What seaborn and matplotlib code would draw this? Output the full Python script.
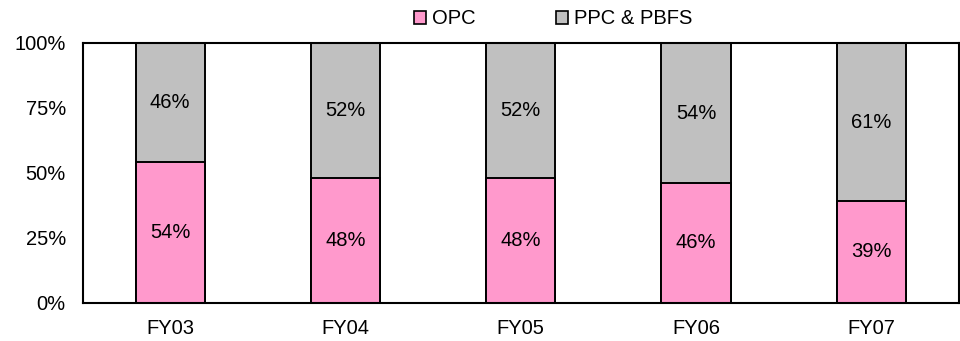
import matplotlib
matplotlib.use("Agg")
import matplotlib.pyplot as plt
import seaborn as sns
import pandas as pd
from matplotlib.patches import Patch

years = ["FY03", "FY04", "FY05", "FY06", "FY07"]
opc = [54, 48, 48, 46, 39]
ppc_pbfs = [46, 52, 52, 54, 61]
y_ticks = [0, 25, 50, 75, 100]

sns.set_style("white")
plt.rcParams["font.family"] = ["Liberation Sans", "DejaVu Sans"]
FS = 14.5
plt.rcParams.update({
    "font.size": FS,
    "text.color": "black",
    "xtick.color": "black",
    "ytick.color": "black",
    "axes.labelcolor": "black",
})

df = pd.DataFrame({"year": years, "OPC": opc, "PPC & PBFS": ppc_pbfs})
df["total"] = df["OPC"] + df["PPC & PBFS"]

PINK = "#FF99CC"
GREY = "#C0C0C0"

fig = plt.figure(figsize=(9.6, 3.41), dpi=100)
ax = fig.add_axes([82.5 / 960, 1 - 302.5 / 341, 876.5 / 960, 259.5 / 341])

# grey segment spans the full stack, pink drawn over the bottom part
sns.barplot(data=df, x="year", y="total", color=GREY, width=0.395,
            edgecolor="black", linewidth=1.4, saturation=1, ax=ax)
sns.barplot(data=df, x="year", y="OPC", color=PINK, width=0.395,
            edgecolor="black", linewidth=1.4, saturation=1, ax=ax)

bars = ax.patches
n = len(years)
pink_bars = bars[n:]
for pb, v_top, v_bot in zip(pink_bars, ppc_pbfs, opc):
    x = pb.get_x() + pb.get_width() / 2
    ax.text(x, v_bot / 2, f"{v_bot}%", ha="center", va="center", fontsize=FS, color="black")
    ax.text(x, v_bot + v_top / 2, f"{v_top}%", ha="center", va="center", fontsize=FS, color="black")

ax.set_xlim(-0.5, n - 0.5)
ax.set_ylim(0, 100)
ax.set_yticks(y_ticks)
ax.set_yticklabels([f"{t}%" for t in y_ticks])
ax.set_xlabel("")
ax.set_ylabel("")

# category labels at bar centres, tick marks on the boundaries
ax.set_xticks(range(n))
ax.set_xticklabels(years)
ax.tick_params(axis="x", which="major", length=0, pad=12, labelsize=FS, labelcolor="black")
ax.set_xticks([i - 0.5 for i in range(n + 1)], minor=True)
ax.tick_params(axis="x", which="minor", length=5, width=1.4, direction="out", color="black")
ax.tick_params(axis="y", length=0, pad=12, labelsize=FS, labelcolor="black")

for side in ["left", "right", "top", "bottom"]:
    ax.spines[side].set_visible(True)
    ax.spines[side].set_color("black")
    ax.spines[side].set_linewidth(1.5)

handles = [Patch(facecolor=PINK, edgecolor="black", linewidth=1.2, label="OPC"),
           Patch(facecolor=GREY, edgecolor="black", linewidth=1.2, label="PPC & PBFS")]
fig.legend(handles=handles, loc="center", bbox_to_anchor=(553 / 960, 1 - 19 / 341),
           ncol=2, frameon=False, handlelength=0.6, handleheight=0.6,
           handletextpad=0.3, columnspacing=4.0, fontsize=FS, labelcolor="black")

fig.savefig("out.png", dpi=100)
